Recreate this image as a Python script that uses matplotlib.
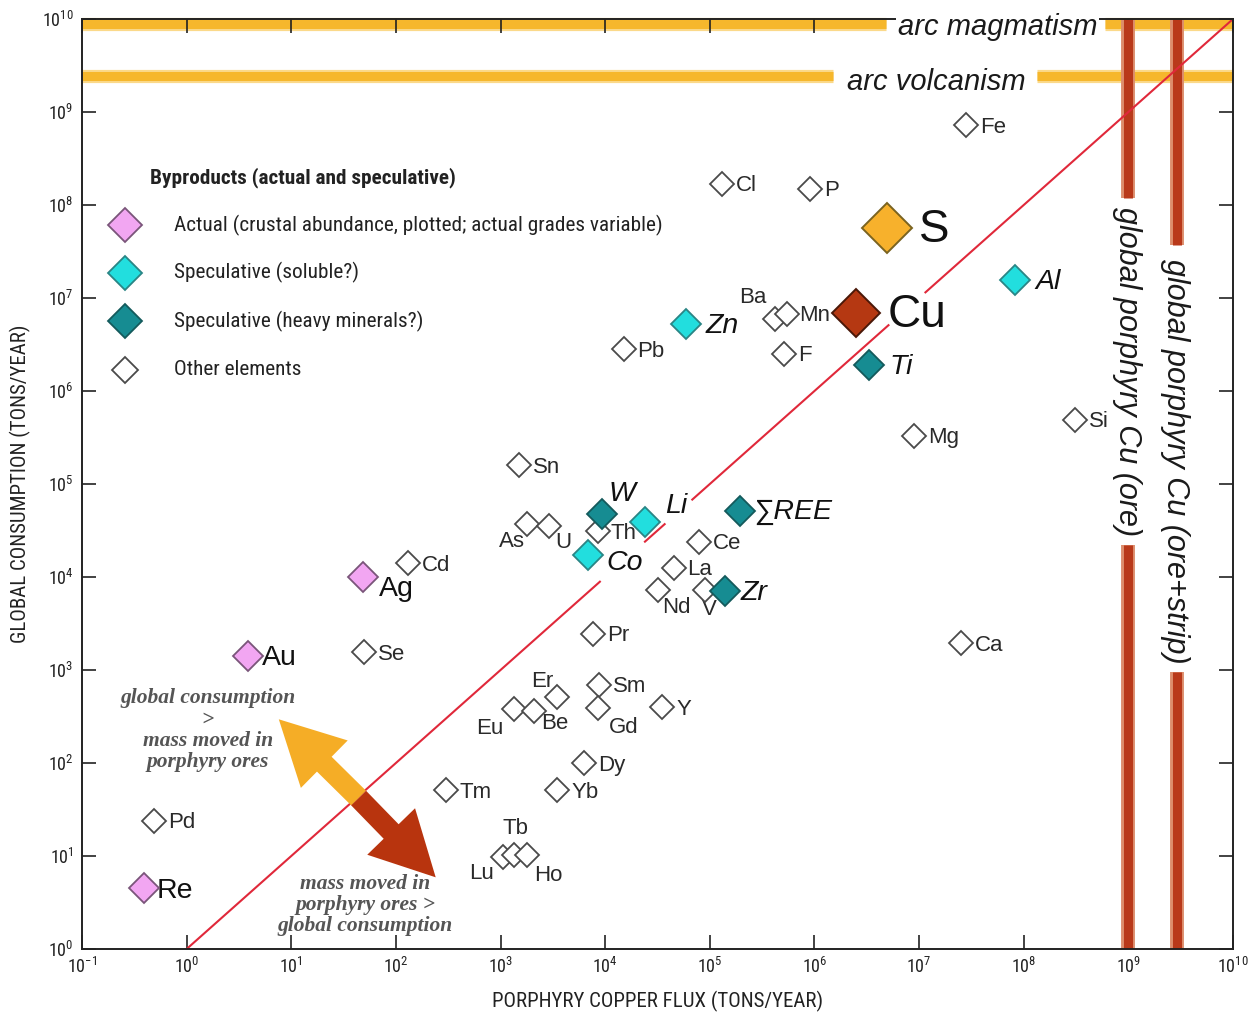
import math
import matplotlib
matplotlib.use("Agg")
import matplotlib.pyplot as plt
from matplotlib import font_manager
from matplotlib.patches import FancyArrowPatch
from matplotlib.ticker import FixedLocator, FuncFormatter, NullLocator

# ---------------------------------------------------------------- data
elements = ["Fe", "Cl", "P", "S", "Al", "Cu", "Ba", "Mn", "Zn", "Pb", "F", "Ti",
            "Si", "Mg", "Sn", "W", "Li", "\u2211REE", "As", "U", "Th", "Co", "Ce",
            "Cd", "La", "Ag", "Nd", "V", "Zr", "Ca", "Pr", "Au", "Se", "Er", "Sm",
            "Eu", "Be", "Gd", "Y", "Dy", "Tm", "Yb", "Pd", "Lu", "Tb", "Ho", "Re"]

# porphyry copper flux (tons/year)
flux = [2.8e7, 1.3e5, 9.1e5, 4.9e6, 8.3e7, 2.5e6, 4.2e5, 5.5e5, 5.9e4, 1.5e4, 5.1e5, 3.3e6,
        3.1e8, 8.9e6, 1.5e3, 9.3e3, 2.4e4, 1.95e5, 1.8e3, 2.9e3, 8.5e3, 6.8e3, 7.9e4,
        1.3e2, 4.5e4, 49, 3.2e4, 8.9e4, 1.4e5, 2.5e7, 7.7e3, 3.9, 50, 3.5e3, 8.7e3,
        1.35e3, 2.1e3, 8.5e3, 3.5e4, 6.3e3, 3.0e2, 3.5e3, 0.49, 1.06e3, 1.35e3, 1.8e3, 0.39]

# global consumption (tons/year)
consumption = [7.2e8, 1.7e8, 1.5e8, 5.6e7, 1.55e7, 6.9e6, 6.0e6, 6.8e6, 5.2e6, 2.8e6, 2.5e6, 1.9e6,
               4.9e5, 3.3e5, 1.6e5, 4.8e4, 3.9e4, 5.1e4, 3.7e4, 3.5e4, 3.1e4, 1.74e4, 2.4e4,
               1.4e4, 1.26e4, 1.0e4, 7.2e3, 7.2e3, 7.1e3, 1.95e3, 2.45e3, 1.4e3, 1.55e3, 5.1e2, 6.9e2,
               3.8e2, 3.6e2, 3.9e2, 4.0e2, 1.0e2, 51, 51, 24, 9.8, 10.2, 10.2, 4.5]

group = ["other", "other", "other", "sulfur", "soluble", "copper", "other", "other", "soluble",
         "other", "other", "heavy", "other", "other", "other", "heavy", "soluble", "heavy",
         "other", "other", "other", "soluble", "other", "other", "other", "actual", "other",
         "other", "heavy", "other", "other", "actual", "other", "other", "other", "other",
         "other", "other", "other", "other", "other", "other", "other", "other", "other",
         "other", "actual"]

# reference fluxes
arc_magmatism = 8.8e9
arc_volcanism = 2.45e9
porphyry_ore = 1.0e9
porphyry_ore_strip = 2.9e9

legend_labels = ["Actual (crustal abundance, plotted; actual grades variable)",
                 "Speculative (soluble?)",
                 "Speculative (heavy minerals?)",
                 "Other elements"]
legend_groups = ["actual", "soluble", "heavy", "other"]

decades = list(range(-1, 11))

# ---------------------------------------------------------------- fonts
available = {f.name for f in font_manager.fontManager.ttflist}
def pick(*names):
    for n in names:
        if n in available:
            return n
    return "DejaVu Sans"

NARROW = pick("Liberation Sans Narrow", "Roboto Condensed", "Open Sans Condensed", "Liberation Sans")
SANS = pick("Liberation Sans", "Arimo", "DejaVu Sans")
SERIF = pick("Liberation Serif", "DejaVu Serif")

plt.rcParams["mathtext.fontset"] = "custom"
plt.rcParams["mathtext.rm"] = NARROW
plt.rcParams["mathtext.it"] = NARROW

# ---------------------------------------------------------------- styles
styles = {
    "other":   dict(fc="white",   ec="#4a4a4a", ms=12.3, mew=1.3, fs=16,   style="normal", dx=14),
    "actual":  dict(fc="#f2a6f2", ec="#7a557a", ms=15,   mew=1.3, fs=20.5, style="normal", dx=14),
    "soluble": dict(fc="#22dede", ec="#2a8585", ms=15,   mew=1.3, fs=20.5, style="italic", dx=20),
    "heavy":   dict(fc="#168c92", ec="#145a5c", ms=15,   mew=1.3, fs=20.5, style="italic", dx=17),
    "sulfur":  dict(fc="#f7b12c", ec="#7a6320", ms=25,   mew=1.4, fs=33,   style="normal", dx=32),
    "copper":  dict(fc="#b53812", ec="#4a1808", ms=24,   mew=1.4, fs=33,   style="normal", dx=32),
}

# label placement (pixel offsets from the marker centre)
label_place = {
    "Ba": (-22, 21, "center"), "Mn": (12, -2, "left"), "As": (-15, -17, "center"),
    "U": (14, -16, "center"), "Th": (13, -2, "left"), "Nd": (18, -17, "center"),
    "V": (5, -19, "center"), "Er": (-15, 16, "center"), "Eu": (-24, -19, "center"),
    "Be": (20, -12, "center"), "Gd": (26, -19, "center"), "Tb": (1, 27, "center"),
    "Lu": (-22, -17, "center"), "Ho": (21, -20, "center"), "W": (20, 20, "center"),
    "Li": (31, 16, "center"), "Co": (19, -8, "left"), "Ag": (15, -12, "left"),
    "Au": (13, -2, "left"), "Re": (13, -3, "left"), "Zr": (15, -2, "left"),
    "\u2211REE": (13, -1, "left"), "Ti": (21, -2, "left"),
}

# ---------------------------------------------------------------- figure
fig = plt.figure(figsize=(12.58, 10.17), dpi=100)
ax = fig.add_axes([82 / 1258, 68 / 1017, 1151 / 1258, 930 / 1017])
ax.set_xscale("log")
ax.set_yscale("log")
ax.set_xlim(1e-1, 1e10)
ax.set_ylim(1e0, 1e10)

BAND = "#f6b72c"
BAND_EDGE = "#fbd98a"
BAR = "#b9391a"
BAR_EDGE = "#dd8d6c"

# horizontal arc bands (broken where their captions sit)
for yv, segs in [(arc_magmatism, [(1e-1, 4.8e6), (6.0e8, 1e10)]),
                 (arc_volcanism, [(1e-1, 1.5e6), (1.35e8, 1e10)])]:
    for (x0, x1) in segs:
        ax.plot([x0, x1], [yv] * 2, color=BAND_EDGE, lw=9.5, solid_capstyle="butt",
                clip_on=False, zorder=1)
        ax.plot([x0, x1], [yv] * 2, color=BAND, lw=6.5, solid_capstyle="butt",
                clip_on=False, zorder=1.1)
ax.text(5.6e7, 8.3e9, "arc magmatism", family=SANS, style="italic", fontsize=21,
        ha="center", va="center", color="#1a1a1a", zorder=11,
        bbox=dict(boxstyle="square,pad=0.05", fc="white", ec="none"))
ax.text(1.45e7, 2.1e9, "arc volcanism", family=SANS, style="italic", fontsize=21,
        ha="center", va="center", color="#1a1a1a", zorder=3)

# vertical porphyry Cu bars (broken where their captions sit)
for xv, segs in [(porphyry_ore, [(1.2e8, 1e10), (1e0, 2.2e4)]),
                 (porphyry_ore_strip, [(3.7e7, 1e10), (1e0, 9.5e2)])]:
    for (y0, y1) in segs:
        ax.plot([xv, xv], [y0, y1], color=BAR_EDGE, lw=10, solid_capstyle="butt", zorder=1.5)
        ax.plot([xv, xv], [y0, y1], color=BAR, lw=6.5, solid_capstyle="butt", zorder=1.6)
ax.text(porphyry_ore * 0.97, 1.6e6, "global porphyry Cu (ore)", family=SANS, style="italic",
        fontsize=22, rotation=-90, ha="center", va="center", color="#1a1a1a", zorder=3)
ax.text(porphyry_ore_strip * 0.97, 1.75e5, "global porphyry Cu (ore+strip)", family=SANS,
        style="italic", fontsize=22, rotation=-90, ha="center", va="center", color="#1a1a1a",
        zorder=3)

# 1:1 line, broken around labels it would cross
one_to_one = [1e0, 8.9e3, 2.4e4, 3.7e4, 6.8e4, 5.1e6, 1.15e7, 1e10]
for i in range(0, len(one_to_one), 2):
    seg = one_to_one[i:i + 2]
    ax.plot(seg, seg, color="#e0283a", lw=1.5, zorder=2)

# double-headed arrow
tip_up = (7.6, 2.95e2)
mid = (44, 42)
tip_down = (2.4e2, 5.9)
arrow_style = "simple,head_length=2.3,head_width=2.4,tail_width=0.75"
ax.add_patch(FancyArrowPatch(mid, tip_up, arrowstyle=arrow_style, mutation_scale=20,
                             color="#f5ad26", lw=0, shrinkA=0, shrinkB=0, zorder=2.5))
ax.add_patch(FancyArrowPatch(mid, tip_down, arrowstyle=arrow_style, mutation_scale=20,
                             color="#b8340e", lw=0, shrinkA=0, shrinkB=0, zorder=2.6))
ax.text(1.6, 2.26e2, "global consumption\n>\nmass moved in\nporphyry ores", family=SERIF,
        style="italic", weight="bold", fontsize=15.5, color="#555555", ha="center", va="center",
        linespacing=1.08, zorder=3)
ax.text(51, 2.97, "mass moved in\nporphyry ores >\nglobal consumption", family=SERIF,
        style="italic", weight="bold", fontsize=15.5, color="#555555", ha="center", va="center",
        linespacing=1.08, zorder=3)

# element markers and labels
order = ["other", "actual", "soluble", "heavy", "sulfur", "copper"]
for g in order:
    st = styles[g]
    for name, x, y, gg in zip(elements, flux, consumption, group):
        if gg != g:
            continue
        z = 4 + order.index(g)
        ax.plot([x], [y], marker="D", ms=st["ms"], mfc=st["fc"], mec=st["ec"],
                mew=st["mew"], ls="none", zorder=z)
        dx, dy, ha = label_place.get(name, (st["dx"], -2, "left"))
        ax.annotate(name, (x, y), xytext=(dx, dy), textcoords="offset pixels",
                    ha=ha, va="center", family=SANS, style=st["style"], fontsize=st["fs"],
                    color="#2a2a2a" if g == "other" else "#111111", zorder=3.5)

# legend
ax.text(0.059, 0.829, "Byproducts (actual and speculative)", transform=ax.transAxes,
        family=NARROW, weight="bold", fontsize=15.3, ha="left", va="center", color="#222222")
for yy, lab, g in zip([0.7785, 0.727, 0.6753, 0.6226], legend_labels, legend_groups):
    st = styles[g]
    ax.plot([0.0374], [yy], transform=ax.transAxes, marker="D",
            ms=17.5 if g != "other" else 13, mfc=st["fc"], mec=st["ec"], mew=1.3, ls="none")
    ax.text(0.080, yy, lab, transform=ax.transAxes, family=NARROW, fontsize=15.3,
            ha="left", va="center", color="#222222")

# axes and ticks
for sp in ax.spines.values():
    sp.set_linewidth(1.4)
    sp.set_color("#222222")
    sp.set_zorder(10)
ticks = [10.0 ** d for d in decades]
ax.xaxis.set_major_locator(FixedLocator(ticks))
ax.yaxis.set_major_locator(FixedLocator(ticks[1:]))
ax.xaxis.set_minor_locator(NullLocator())
ax.yaxis.set_minor_locator(NullLocator())
fmt = FuncFormatter(lambda v, p: r"$10^{%d}$" % round(math.log10(v)))
ax.xaxis.set_major_formatter(fmt)
ax.yaxis.set_major_formatter(fmt)
ax.tick_params(which="major", direction="in", length=10, width=1.2, color="#222222",
               top=True, right=True, labelsize=13, labelcolor="#222222", pad=6)

ax.set_xlabel("PORPHYRY COPPER FLUX (TONS/YEAR)", family=NARROW, fontsize=15,
              color="#222222", labelpad=10)
ax.set_ylabel("GLOBAL CONSUMPTION (TONS/YEAR)", family=NARROW, fontsize=15,
              color="#222222", labelpad=8)

fig.savefig("out.png", dpi=100, facecolor="white")
